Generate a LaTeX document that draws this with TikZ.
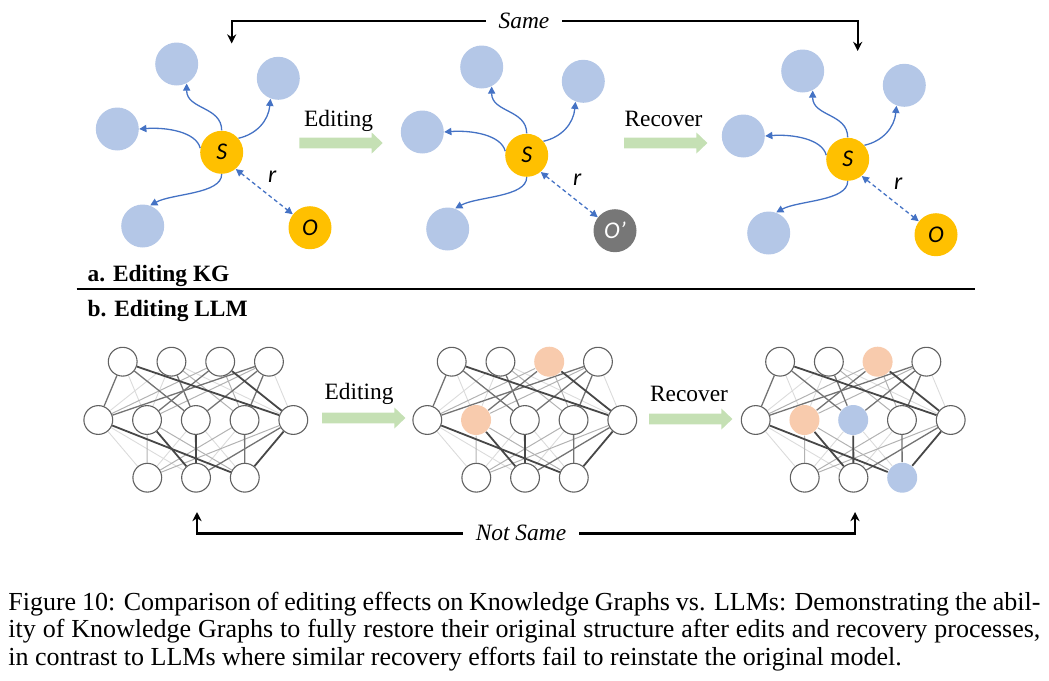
\documentclass[tikz,border=0pt]{standalone}
\usepackage{fontspec}
\setmainfont{Liberation Serif}
\newfontfamily\calib{Carlito}
\usetikzlibrary{arrows.meta}
\pgfdeclarelayer{bg}
\pgfsetlayers{bg,main}
\definecolor{kgblue}{HTML}{B4C7E7}
\definecolor{kgyellow}{HTML}{FFC000}
\definecolor{kggray}{HTML}{777777}
\definecolor{arrblue}{HTML}{4472C4}
\definecolor{peach}{HTML}{F8CBAD}
\definecolor{lgreen}{HTML}{C5E0B4}
\tikzset{
  kgent/.style={circle,fill=kgblue,minimum size=21.5pt,inner sep=0pt},
  kgsub/.style={circle,fill=kgyellow,minimum size=21.5pt,inner sep=0pt,font=\calib\itshape\fontsize{12}{14}\selectfont},
  kglab/.style={inner sep=0pt,font=\calib\itshape\fontsize{12}{14}\selectfont},
  kgarr/.style={arrblue,line width=0.65pt,-{Triangle[length=3.6pt,width=3.6pt]}},
  kgdash/.style={arrblue,line width=0.65pt,dash pattern=on 2pt off 1.5pt,{Triangle[length=3.6pt,width=3.6pt]}-{Triangle[length=3.6pt,width=3.6pt]}},
  nn/.style={circle,draw=black!62,line width=0.55pt,fill=white,minimum size=14.4pt,inner sep=0pt},
  bT3/.style={fill=peach,draw=none,minimum size=15pt},
  bM2/.style={fill=peach,draw=none,minimum size=15pt},
  cT3/.style={fill=peach,draw=none,minimum size=15pt},
  cM2/.style={fill=peach,draw=none,minimum size=15pt},
  cM3/.style={fill=kgblue,draw=none,minimum size=15pt},
  cB3/.style={fill=kgblue,draw=none,minimum size=15pt},
  eD/.style={black!72,line width=0.9pt},
  eM/.style={black!55,line width=0.65pt},
  eL/.style={black!30,line width=0.5pt},
  eF/.style={black!14,line width=0.45pt},
  lbl/.style={inner sep=0pt,font=\fontsize{11.7}{14}\selectfont},
  brk/.style={line width=1.2pt,line join=miter,{Stealth[length=4.6pt,width=4.6pt]}-{Stealth[length=4.6pt,width=4.6pt]}},
  garrow/.style={fill=lgreen}
}
\newcommand\kgpic[4]{%
\begin{scope}[shift={#2}]
\node[kgent] (#1tl) at (176.7,64) {};
\node[kgent] (#1tr) at (278.3,78.3) {};
\node[kgent] (#1L) at (117.3,129) {};
\node[kgent] (#1bl) at (142.7,226) {};
\node[kgsub] (#1S) at (221.7,152.3) {S};
\node[kgsub,fill=#3] (#1O) at (310,227.7) {#4};
\node[kglab] (#1r) at (272.3,177) {r};
\draw[kgarr] (#1S.90) .. controls +(0,-24) and +(0,26) .. (#1tl.-63);
\draw[kgarr] (#1S.40) .. controls +(18,-4) and +(-2,22) .. (#1tr.-111);
\draw[kgarr] (#1S.169) .. controls +(-4,-16) and +(28,-2) .. (#1L.0);
\draw[kgarr] (#1S.270) .. controls +(0,20) and +(22,-12) .. (#1bl.70);
\draw[kgdash] (#1S.-50) -- (#1O.142);
\end{scope}}
\newcommand\nnpic[2]{%
\begin{scope}[shift={#2}]
\foreach \k in {1,...,4} \node[nn,#1T\k/.try] (#1T\k) at ({122.7+48.75*(\k-1)},361.7) {};
\foreach \k in {1,...,5} \node[nn,#1M\k/.try] (#1M\k) at ({98.3+48.75*(\k-1)},420) {};
\foreach \k in {1,...,3} \node[nn,#1B\k/.try] (#1B\k) at ({147.3+48.75*(\k-1)},477.7) {};
\begin{pgfonlayer}{bg}
\draw[eF] (#1T1) -- (#1M2);
\draw[eF] (#1T2) -- (#1M1);
\draw[eF] (#1T2) -- (#1M5);
\draw[eF] (#1T4) -- (#1M5);
\draw[eF] (#1M1) -- (#1B1);
\draw[eF] (#1M1) -- (#1B2);
\draw[eF] (#1M3) -- (#1B3);
\draw[eF] (#1M3) -- (#1B1);
\draw[eF] (#1M4) -- (#1B2);
\draw[eF] (#1T2) -- (#1M2);
\draw[eL] (#1T3) -- (#1M4);
\draw[eL] (#1M1) -- (#1T3);
\draw[eL] (#1T2) -- (#1M4);
\draw[eL] (#1T4) -- (#1M2);
\draw[eL] (#1M2) -- (#1B1);
\draw[eL] (#1M2) -- (#1B3);
\draw[eL] (#1M4) -- (#1B1);
\draw[eL] (#1M5) -- (#1B1);
\draw[eM] (#1T1) -- (#1M1);
\draw[eM] (#1T1) -- (#1M3);
\draw[eM] (#1T2) -- (#1M3);
\draw[eM] (#1T3) -- (#1M2);
\draw[eM] (#1T4) -- (#1M1);
\draw[eM] (#1T4) -- (#1M3);
\draw[eM] (#1T4) -- (#1M4);
\draw[eM] (#1M4) -- (#1B3);
\draw[eM] (#1M5) -- (#1B2);
\draw[eD] (#1T1) -- (#1M5);
\draw[eD] (#1T3) -- (#1M5);
\draw[eD] (#1M1) -- (#1B3);
\draw[eD] (#1M2) -- (#1B2);
\draw[eD] (#1M3) -- (#1B2);
\draw[eD] (#1M5) -- (#1B3);
\end{pgfonlayer}
\end{scope}}
\newcommand\greenarrow[2]{%
\begin{scope}[shift={(#1,#2)}]
\fill[garrow] (0,-5.3) -- (72.4,-5.3) -- (72.4,-10.5) -- (83.4,0) -- (72.4,10.5) -- (72.4,5.3) -- (0,5.3) -- cycle;
\end{scope}}
\begin{document}
\begin{tikzpicture}[x=0.5pt,y=-0.5pt]
\useasboundingbox (0,0) rectangle (1049,680);
% ---- Same bracket
\coordinate (sL) at (231.7,43.5);
\coordinate (sLt) at (231.7,20.7);
\coordinate (sRt) at (857.7,20.7);
\coordinate (sR) at (857.7,51);
\draw[brk] (sL) -- (sLt) -- (sRt) -- (sR);
\node[lbl,fill=white,inner xsep=6.5pt,inner ysep=2pt,font=\fontsize{11.7}{14}\selectfont\itshape] (same) at (524,20.7) {Same};
% ---- KG pictures
\kgpic{ka}{(0,0)}{kgyellow}{O}
\kgpic{kb}{(305,3)}{kggray}{\color{white}O’}
\kgpic{kc}{(626,7)}{kgyellow}{O}
\greenarrow{299.3}{143}
\greenarrow{624}{143}
\node[lbl,anchor=base] (ed1) at (338.5,126.7) {Editing};
\node[lbl,anchor=base] (rc1) at (663.5,126) {Recover};
% ---- section labels
\node[lbl,anchor=base west,font=\fontsize{11.7}{14}\selectfont\bfseries] (ha) at (87.3,281) {a. Editing KG};
\coordinate (ruleL) at (76.7,289.3);
\coordinate (ruleR) at (975,289.3);
\draw[line width=1pt] (ruleL) -- (ruleR);
\node[lbl,anchor=base west,font=\fontsize{11.7}{14}\selectfont\bfseries] (hb) at (87.3,316.7) {b. Editing LLM};
% ---- networks
\nnpic{a}{(0,0)}
\nnpic{b}{(329,0)}
\nnpic{c}{(657.4,0)}
\greenarrow{322}{418}
\greenarrow{649}{419}
\node[lbl,anchor=base] (ed2) at (359,399.7) {Editing};
\node[lbl,anchor=base] (rc2) at (689,401) {Recover};
% ---- Not Same bracket
\coordinate (nL) at (197,512);
\coordinate (nLb) at (197,533.3);
\coordinate (nRb) at (855,533.3);
\coordinate (nR) at (855,512);
\draw[brk] (nL) -- (nLb) -- (nRb) -- (nR);
\node[lbl,fill=white,inner xsep=6.5pt,inner ysep=2pt,font=\fontsize{11.7}{14}\selectfont\itshape] (nsame) at (521,533.3) {Not Same};
% ---- caption
\node[anchor=base west,inner sep=0pt] (cap) at (8,610) {\parbox[t]{516pt}{\fontsize{13}{13.75}\selectfont Figure 10: Comparison of editing effects on Knowledge Graphs vs. LLMs: Demonstrating the abil-\linebreak ity of Knowledge Graphs to fully restore their original structure after edits and recovery processes,\linebreak in contrast to LLMs where similar recovery efforts fail to reinstate the original model.}};
\end{tikzpicture}
\end{document}
